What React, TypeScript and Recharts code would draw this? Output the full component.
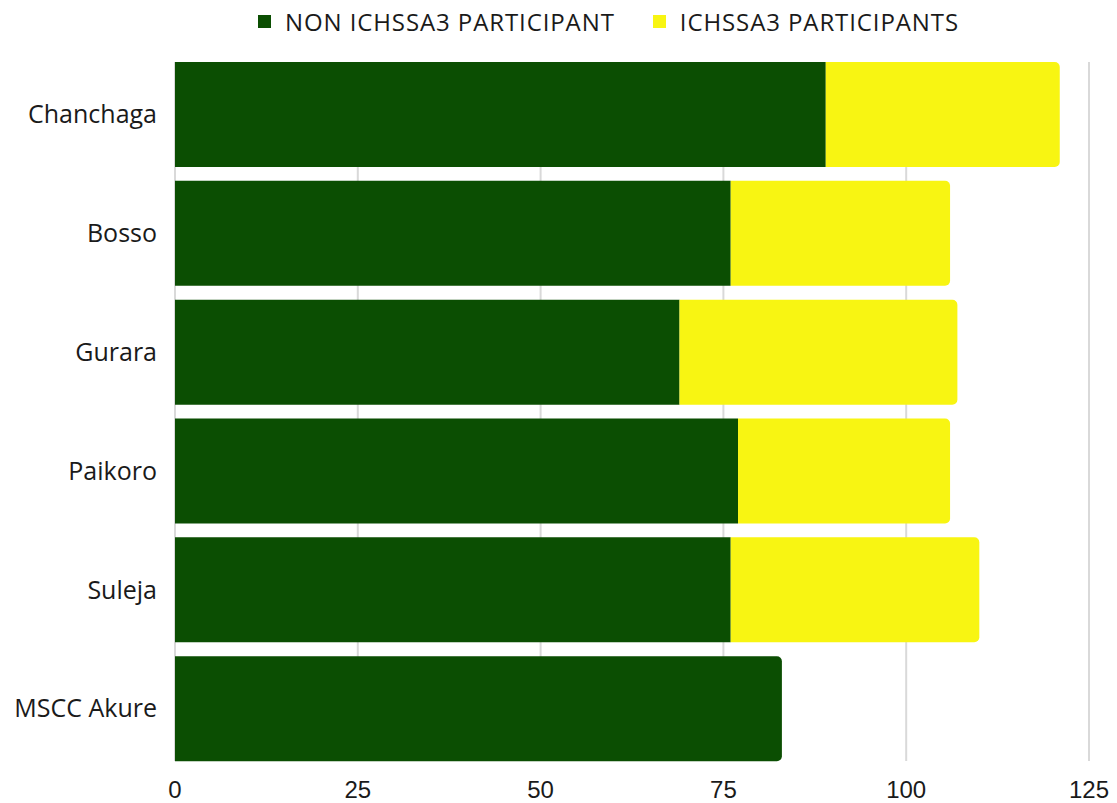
import { BarChart, Bar, XAxis, YAxis, CartesianGrid, Legend, Cell } from "recharts"

const districts = ["Chanchaga", "Bosso", "Gurara", "Paikoro", "Suleja", "MSCC Akure"]
const nonParticipants = [89, 76, 69, 77, 76, 83]
const participants = [32, 30, 38, 29, 34, 0]
const xTicks = [0, 25, 50, 75, 100, 125]
const seriesOrder = ["NON ICHSSA3 PARTICIPANT", "ICHSSA3 PARTICIPANTS"]

const GREEN = "#0b4e02"
const YELLOW = "#f8f512"

const data = districts.map((name, i) => ({
  name,
  non: nonParticipants[i],
  part: participants[i],
}))

const renderLegend = (props: any) => {
  const items = [...(props.payload || [])].sort(
    (a: any, b: any) => seriesOrder.indexOf(a.value) - seriesOrder.indexOf(b.value)
  )
  return (
    <div style={{ display: "flex", justifyContent: "flex-start", gap: 38, fontFamily: "Open Sans", fontSize: 24, letterSpacing: 0.9, color: "#1a1a1a" }}>
      {items.map((it: any) => (
        <div key={it.value} style={{ display: "flex", alignItems: "center" }}>
          <span style={{ display: "inline-block", width: 13, height: 13, background: it.color, marginRight: 14 }} />
          <span>{it.value}</span>
        </div>
      ))}
    </div>
  )
}

const gridLine = (p: any) => (
  <line
    key={p.key ?? `v-${p.index}-${p.x1}`}
    x1={p.x1}
    x2={p.x2}
    y1={p.y1 + 7}
    y2={p.y2 - 7}
    stroke="#d9d9d9"
    strokeWidth={2}
  />
)

export default function App() {
  return (
    <div style={{ position: "absolute", left: 0, top: 0, background: "#fff" }}>
      <BarChart
        width={1117}
        height={803}
        data={data}
        layout="vertical"
        barCategoryGap={7}
        margin={{ top: 55, right: 28, bottom: 0, left: 0 }}
      >
        <CartesianGrid horizontal={false} vertical={gridLine} />
        <XAxis
          type="number"
          domain={[0, 125]}
          ticks={xTicks}
          height={35}
          axisLine={false}
          tickLine={false}
          tickMargin={7}
          tick={{ fill: "#1a1a1a", fontSize: 24, fontFamily: "Liberation Sans" }}
        />
        <YAxis
          type="category"
          dataKey="name"
          width={175}
          axisLine={false}
          tickLine={false}
          tickMargin={12}
          tick={{ fill: "#1a1a1a", fontSize: 25, fontFamily: "Open Sans" }}
        />
        <Legend
          verticalAlign="middle"
          content={renderLegend}
          wrapperStyle={{ top: 5, left: 258, width: 800 }}
        />
        <Bar dataKey="non" name="NON ICHSSA3 PARTICIPANT" stackId="a" fill={GREEN} isAnimationActive={false}>
          {data.map((d, i) => (
            <Cell key={i} fill={GREEN} radius={d.part === 0 ? ([0, 5, 5, 0] as any) : 0} />
          ))}
        </Bar>
        <Bar dataKey="part" name="ICHSSA3 PARTICIPANTS" stackId="a" fill={YELLOW} radius={[0, 5, 5, 0]} isAnimationActive={false} />
      </BarChart>
    </div>
  )
}
